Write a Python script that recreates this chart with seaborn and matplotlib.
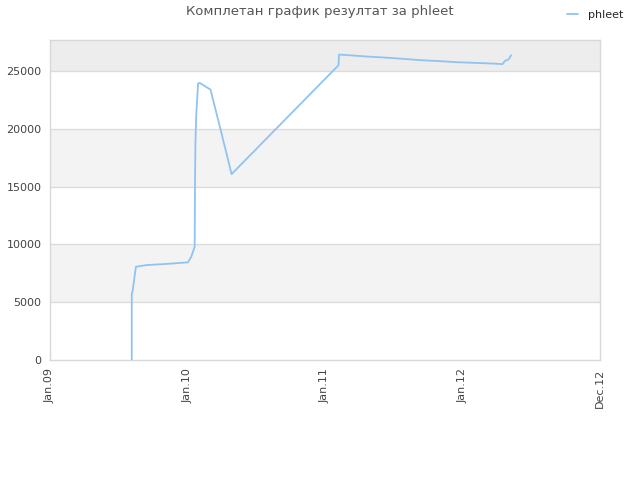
import pandas as pd
import matplotlib
matplotlib.use("Agg")
import matplotlib.pyplot as plt
import seaborn as sns

# data
dates = ["2009-08-06", "2009-08-06", "2009-08-08", "2009-08-17",
         "2009-09-15", "2009-10-29", "2010-01-02", "2010-01-11",
         "2010-01-20", "2010-01-21", "2010-01-22", "2010-01-24",
         "2010-01-29", "2010-02-02", "2010-03-03", "2010-03-28",
         "2010-04-28", "2011-02-06", "2011-02-07", "2011-03-07",
         "2011-04-22", "2011-06-09", "2011-07-27", "2011-09-14",
         "2011-11-02", "2011-12-16", "2012-02-03", "2012-03-23",
         "2012-04-16", "2012-04-23", "2012-05-02", "2012-05-09"]
values = [0, 5770, 5900, 8070,
          8220, 8300, 8450, 8940,
          9800, 15570, 18740, 21050,
          23930, 23990, 23410, 20180,
          16090, 25520, 26440, 26380,
          26270, 26180, 26070, 25950,
          25870, 25780, 25720, 25660,
          25610, 25900, 26010, 26380]
tick_dates = ["2009-01-01", "2010-01-01", "2011-01-01", "2012-01-01",
              "2012-12-31"]
tick_labels = ["Jan.09", "Jan.10", "Jan.11", "Jan.12", "Dec.12"]
y_ticks = [0, 5000, 10000, 15000, 20000, 25000]

df = pd.DataFrame({"date": pd.to_datetime(dates), "score": values})

sns.set_style("white")
plt.rcParams['font.family'] = ['DejaVu Sans']

fig = plt.figure(figsize=(6.4, 4.8), dpi=100)
ax = fig.add_axes([50 / 640, 120 / 480, 550 / 640, 320 / 480])

ymax = 27700
# alternating bands like the original
band_colors = ["white", "#f3f3f3", "white", "#f3f3f3", "white", "#ededed"]
edges = y_ticks + [ymax]
for i, c in enumerate(band_colors):
    ax.axhspan(edges[i], edges[i + 1], color=c, zorder=0, lw=0)
for y in y_ticks[1:]:
    ax.axhline(y, color="#dcdcdc", lw=1, zorder=1)

sns.lineplot(data=df, x="date", y="score", ax=ax, estimator=None,
             sort=False, color="#90c3f0", lw=1.3, label="phleet", zorder=3)

ax.set_xlim(pd.Timestamp("2009-01-01"), pd.Timestamp("2012-12-31"))
ax.set_ylim(0, ymax)
ax.set_xticks(pd.to_datetime(tick_dates))
ax.set_xticklabels(tick_labels, rotation=90, fontsize=8, color="#444444")
ax.set_yticks(y_ticks)
ax.set_yticklabels([str(v) for v in y_ticks], fontsize=8, color="#444444")
ax.tick_params(length=0, pad=6)
ax.set_xlabel("")
ax.set_ylabel("")
for s in ax.spines.values():
    s.set_color("#d8d8d8")
    s.set_linewidth(1)

ax.get_legend().remove()
handles, labels = ax.get_legend_handles_labels()
fig.legend(handles, labels, loc="upper right", bbox_to_anchor=(0.99, 1.0),
           frameon=False, fontsize=8, handlelength=1.0, handletextpad=0.9)

fig.text(0.5, 0.975, "Комплетан график резултат за phleet", ha="center",
         va="center", fontsize=9.5, color="#555555")

fig.savefig("out.png", dpi=100)
